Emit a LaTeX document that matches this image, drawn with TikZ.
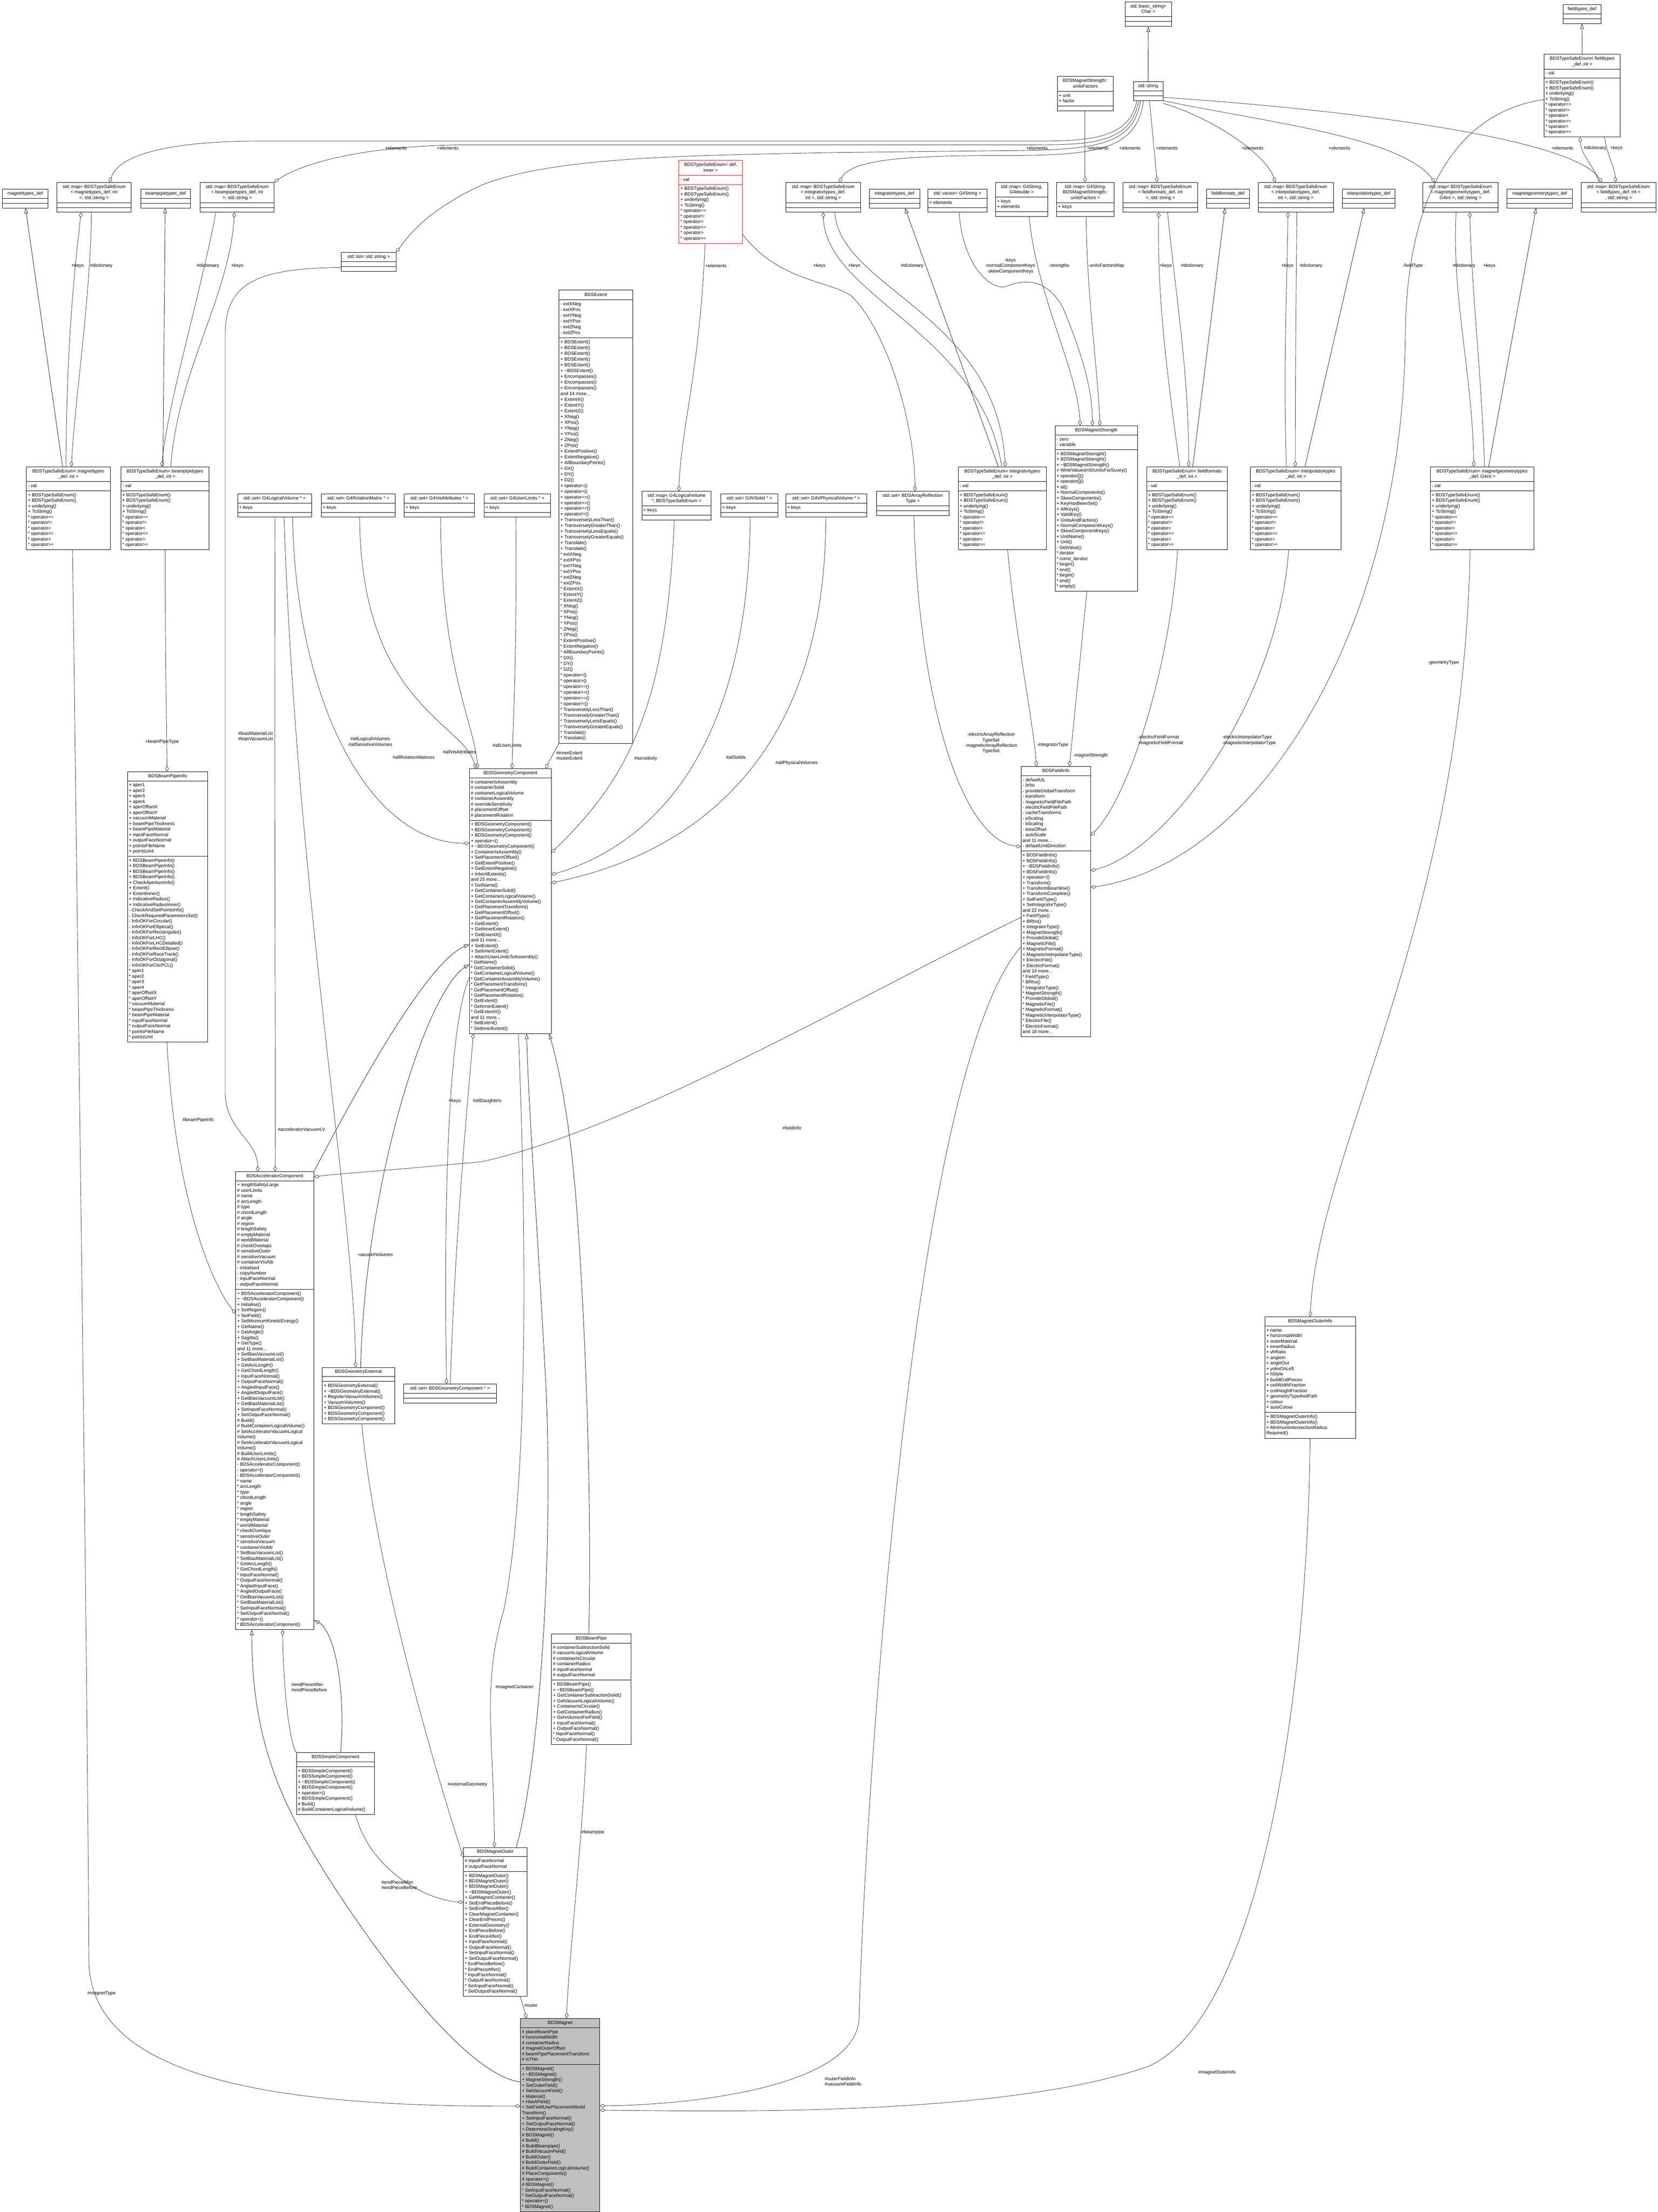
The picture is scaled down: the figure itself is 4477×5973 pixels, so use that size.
\documentclass[tikz,border=0pt]{standalone}
\usepackage{fontspec}
\setmainfont{Liberation Sans}
\usetikzlibrary{shapes.multipart,arrows.meta}
\definecolor{edgegray}{HTML}{404040}
\definecolor{inhblue}{HTML}{191970}
\definecolor{magfill}{HTML}{BFBFBF}
\newcommand\cf{\fontsize{12.5}{14.9}\selectfont}
\newcommand\cfx{\fontsize{12.5}{15.5}\selectfont}
\newcommand\tl{\textasciitilde}
\tikzset{
  cls/.style={draw=black,line width=1pt,fill=white,rectangle split,rectangle split parts=3,
    rectangle split part align={center,left,left},anchor=north west,inner xsep=4pt,inner ysep=4.5pt,font=\cf},
  agg/.style={draw=edgegray,line width=1.1pt,-{Diamond[open,length=15pt,width=10pt]}},
  inh/.style={draw=inhblue,line width=1.1pt,-{Triangle[open,length=14pt,width=10pt]}},
  lbl/.style={font=\cf,anchor=west,inner sep=0pt,align=left},
  lblc/.style={font=\cf,anchor=north,inner sep=0pt,align=center},
}
\newcommand\umlcls[8][]{\node[cls,minimum width=#5pt,#1] (#2) at (#3,#4)
 {\begin{tabular}{@{}c@{}}#6\end{tabular}\nodepart{two}\begin{tabular}{@{}l@{}}#7\end{tabular}\nodepart{three}\begin{tabular}{@{}l@{}}#8\end{tabular}};}
\newcommand\tsem{+ BDSTypeSafeEnum()\\+ BDSTypeSafeEnum()\\+ underlying()\\+ ToString()\\{*} operator==\\{*} operator!=\\{*} operator<\\{*} operator<=\\{*} operator>\\{*} operator>=}
\begin{document}
\begin{tikzpicture}[x=1pt,y=-1pt]
\fill[white] (0,0) rectangle (4477,5973);
\useasboundingbox (0,0) rectangle (4477,5973);
% ---------- top row
\umlcls{basic}{3038}{5}{125}{std::basic\_string<\\Char >}{}{}
\umlcls{ftdef}{4220}{12}{103}{fieldtypes\_def}{}{}
\umlcls{tsfield}{4169}{146}{206}{BDSTypeSafeEnum< fieldtypes\\\_def, int >}{- val}{\tsem}
\umlcls{unitsF}{2855}{206}{151}{BDSMagnetStrength::\\unitsFactors}{+ unit\\+ factor}{}
\umlcls{string}{3060}{220}{80}{std::string}{}{}
% ---------- maps
\umlcls{mapMagT}{153}{492}{201}{std::map< BDSTypeSafeEnum\\< magnettypes\_def, int\\>, std::string >}{}{}
\umlcls{mapBPT}{540}{492}{200}{std::map< BDSTypeSafeEnum\\< beampipetypes\_def, int\\>, std::string >}{}{}
\umlcls{mapIntT}{2121}{492}{203}{std::map< BDSTypeSafeEnum\\< integratortypes\_def,\\int >, std::string >}{}{}
\umlcls{mapG4d}{2688}{492}{141}{std::map< G4String,\\G4double >}{+ keys\\+ elements}{}
\umlcls{mapUF}{2853}{492}{155}{std::map< G4String,\\BDSMagnetStrength::\\unitsFactors >}{+ keys}{}
\umlcls{mapFF}{3032}{492}{202}{std::map< BDSTypeSafeEnum\\< fieldformats\_def, int\\>, std::string >}{}{}
\umlcls{mapIT}{3397}{492}{203}{std::map< BDSTypeSafeEnum\\< interpolatortypes\_def,\\int >, std::string >}{}{}
\umlcls{mapMG}{3842}{492}{203}{std::map< BDSTypeSafeEnum\\< magnetgeometrytypes\_def,\\G4int >, std::string >}{}{}
\umlcls{mapFT}{4269}{492}{202}{std::map< BDSTypeSafeEnum\\< fieldtypes\_def, int >\\, std::string >}{}{}
\umlcls{magdef}{6}{510}{123}{magnettypes\_def}{}{}
\umlcls{bpdef}{380}{510}{134}{beampipetypes\_def}{}{}
\umlcls{intdef}{2347}{510}{136}{integratortypes\_def}{}{}
\umlcls{vecG4}{2505}{510}{160}{std::vector< G4String >}{+ elements}{}
\umlcls{ffdef}{3258}{510}{115}{fieldformats\_def}{}{}
\umlcls{itdef}{3624}{510}{143}{interpolatortypes\_def}{}{}
\umlcls{mgdef}{4069}{510}{177}{magnetgeometrytypes\_def}{}{}
\umlcls[draw=red]{tsdef}{1833}{433}{171}{BDSTypeSafeEnum< def,\\inner >}{- val}{\tsem}
\umlcls{list}{921}{681}{148}{std::list< std::string >}{}{}
% ---------- BDSExtent
\umlcls[font=\cfx]{extent}{1509}{783}{199}{BDSExtent}{- extXNeg\\- extXPos\\- extYNeg\\- extYPos\\- extZNeg\\- extZPos}
{+ BDSExtent()\\+ BDSExtent()\\+ BDSExtent()\\+ BDSExtent()\\+ BDSExtent()\\+ \tl BDSExtent()\\+ Encompasses()\\+ Encompasses()\\+ Encompasses()\\and 14 more...\\+ ExtentX()\\+ ExtentY()\\+ ExtentZ()\\+ XNeg()\\+ XPos()\\+ YNeg()\\+ YPos()\\+ ZNeg()\\+ ZPos()\\+ ExtentPositive()\\+ ExtentNegative()\\+ AllBoundaryPoints()\\+ DX()\\+ DY()\\+ DZ()\\+ operator<()\\+ operator>()\\+ operator<=()\\+ operator>=()\\+ operator==()\\+ operator!=()\\+ TransverselyLessThan()\\+ TransverselyGreaterThan()\\+ TransverselyLessEquals()\\+ TransverselyGreaterEquals()\\+ Translate()\\+ Translate()\\{*} extXNeg\\{*} extXPos\\{*} extYNeg\\{*} extYPos\\{*} extZNeg\\{*} extZPos\\{*} ExtentX()\\{*} ExtentY()\\{*} ExtentZ()\\{*} XNeg()\\{*} XPos()\\{*} YNeg()\\{*} YPos()\\{*} ZNeg()\\{*} ZPos()\\{*} ExtentPositive()\\{*} ExtentNegative()\\{*} AllBoundaryPoints()\\{*} DX()\\{*} DY()\\{*} DZ()\\{*} operator<()\\{*} operator>()\\{*} operator<=()\\{*} operator>=()\\{*} operator==()\\{*} operator!=()\\{*} TransverselyLessThan()\\{*} TransverselyGreaterThan()\\{*} TransverselyLessEquals()\\{*} TransverselyGreaterEquals()\\{*} Translate()\\{*} Translate()}
% ---------- type safe enums
\umlcls{tsMagT}{71}{1260}{226}{BDSTypeSafeEnum< magnettypes\\\_def, int >}{- val}{\tsem}
\umlcls{tsBPT}{326}{1260}{238}{BDSTypeSafeEnum< beampipetypes\\\_def, int >}{- val}{\tsem}
\umlcls{tsIntT}{2587}{1260}{238}{BDSTypeSafeEnum< integratortypes\\\_def, int >}{- val}{\tsem}
\umlcls{tsFF}{3096}{1260}{218}{BDSTypeSafeEnum< fieldformats\\\_def, int >}{- val}{\tsem}
\umlcls{tsIT}{3376}{1260}{245}{BDSTypeSafeEnum< interpolatortypes\\\_def, int >}{- val}{\tsem}
\umlcls{tsMG}{3862}{1260}{280}{BDSTypeSafeEnum< magnetgeometrytypes\\\_def, G4int >}{- val}{\tsem}
% ---------- sets
\umlcls{setLV}{641}{1333}{200}{std::set< G4LogicalVolume * >}{+ keys}{}
\umlcls{setRM}{867}{1333}{200}{std::set< G4RotationMatrix * >}{+ keys}{}
\umlcls{setVA}{1091}{1333}{190}{std::set< G4VisAttributes * >}{+ keys}{}
\umlcls{setUL}{1307}{1333}{179}{std::set< G4UserLimits * >}{+ keys}{}
\umlcls{mapLVS}{1733}{1326}{187}{std::map< G4LogicalVolume\\{*}, BDSTypeSafeEnum >}{+ keys}{}
\umlcls{setSolid}{1946}{1333}{154}{std::set< G4VSolid * >}{+ keys}{}
\umlcls{setPV}{2121}{1333}{219}{std::set< G4VPhysicalVolume * >}{+ keys}{}
\umlcls{setARef}{2367}{1326}{195}{std::set< BDSArrayReflection\\Type >}{}{}
% ---------- BDSMagnetStrength
\umlcls{MS}{2849}{1149}{222}{BDSMagnetStrength}{- zero\\- variable}
{+ BDSMagnetStrength()\\+ BDSMagnetStrength()\\+ \tl BDSMagnetStrength()\\+ WriteValuesInSIUnitsForSuvey()\\+ operator[]()\\+ operator[]()\\+ at()\\+ NormalComponents()\\+ SkewComponents()\\+ KeyHasBeenSet()\\+ AllKeys()\\+ ValidKey()\\+ UnitsAndFactors()\\+ NormalComponentKeys()\\+ SkewComponentKeys()\\+ UnitName()\\+ Unit()\\- GetValue()\\{*} iterator\\{*} const\_iterator\\{*} begin()\\{*} end()\\{*} begin()\\{*} end()\\{*} empty()}
% ---------- BDSBeamPipeInfo
\umlcls{BPI}{344}{2083}{216}{BDSBeamPipeInfo}{+ aper1\\+ aper2\\+ aper3\\+ aper4\\+ aperOffsetX\\+ aperOffsetY\\+ vacuumMaterial\\+ beamPipeThickness\\+ beamPipeMaterial\\+ inputFaceNormal\\+ outputFaceNormal\\+ pointsFileName\\+ pointsUnit}
{+ BDSBeamPipeInfo()\\+ BDSBeamPipeInfo()\\+ BDSBeamPipeInfo()\\+ BDSBeamPipeInfo()\\+ CheckApertureInfo()\\+ Extent()\\+ ExtentInner()\\+ IndicativeRadius()\\+ IndicativeRadiusInner()\\- CheckAndSetPointsInfo()\\- CheckRequiredParametersSet()\\- InfoOKForCircular()\\- InfoOKForElliptical()\\- InfoOKForRectangular()\\- InfoOKForLHC()\\- InfoOKForLHCDetailed()\\- InfoOKForRectEllipse()\\- InfoOKForRaceTrack()\\- InfoOKForOctagonal()\\- InfoOKForClicPCL()\\{*} aper1\\{*} aper2\\{*} aper3\\{*} aper4\\{*} aperOffsetX\\{*} aperOffsetY\\{*} vacuumMaterial\\{*} beamPipeThickness\\{*} beamPipeMaterial\\{*} inputFaceNormal\\{*} outputFaceNormal\\{*} pointsFileName\\{*} pointsUnit}
% ---------- BDSGeometryComponent
\umlcls{GC}{1267}{2075}{221}{BDSGeometryComponent}{\# containerIsAssembly\\\# containerSolid\\\# containerLogicalVolume\\\# containerAssembly\\\# overrideSensitivity\\\# placementOffset\\\# placementRotation}
{+ BDSGeometryComponent()\\+ BDSGeometryComponent()\\+ BDSGeometryComponent()\\+ operator=()\\+ \tl BDSGeometryComponent()\\+ ContainerIsAssembly()\\+ SetPlacementOffset()\\+ GetExtentPositive()\\+ GetExtentNegative()\\+ InheritExtents()\\and 25 more...\\+ GetName()\\+ GetContainerSolid()\\+ GetContainerLogicalVolume()\\+ GetContainerAssemblyVolume()\\+ GetPlacementTransform()\\+ GetPlacementOffset()\\+ GetPlacementRotation()\\+ GetExtent()\\+ GetInnerExtent()\\+ GetExtentX()\\and 11 more...\\+ SetExtent()\\+ SetInnerExtent()\\+ AttachUserLimitsToAssembly()\\{*} GetName()\\{*} GetContainerSolid()\\{*} GetContainerLogicalVolume()\\{*} GetContainerAssemblyVolume()\\{*} GetPlacementTransform()\\{*} GetPlacementOffset()\\{*} GetPlacementRotation()\\{*} GetExtent()\\{*} GetInnerExtent()\\{*} GetExtentX()\\and 11 more...\\{*} SetExtent()\\{*} SetInnerExtent()}
% ---------- BDSFieldInfo
\umlcls{FI}{2757}{2069}{188}{BDSFieldInfo}{- defaultUL\\- brho\\- provideGlobalTransform\\- transform\\- magneticFieldFilePath\\- electricFieldFilePath\\- cacheTransforms\\- eScaling\\- bScaling\\- timeOffset\\- autoScale\\and 11 more...\\- defaultUnitDirection}
{+ BDSFieldInfo()\\+ BDSFieldInfo()\\+ \tl BDSFieldInfo()\\+ BDSFieldInfo()\\+ operator=()\\+ Transform()\\+ TransformBeamline()\\+ TransformComplete()\\+ SetFieldType()\\+ SetIntegratorType()\\and 22 more...\\+ FieldType()\\+ BRho()\\+ IntegratorType()\\+ MagnetStrength()\\+ ProvideGlobal()\\+ MagneticFile()\\+ MagneticFormat()\\+ MagneticInterpolatorType()\\+ ElectricFile()\\+ ElectricFormat()\\and 14 more...\\{*} FieldType()\\{*} BRho()\\{*} IntegratorType()\\{*} MagnetStrength()\\{*} ProvideGlobal()\\{*} MagneticFile()\\{*} MagneticFormat()\\{*} MagneticInterpolatorType()\\{*} ElectricFile()\\{*} ElectricFormat()\\and 18 more...}
% ---------- BDSMagnetOuterInfo
\umlcls{MOI}{3415}{3555}{245}{BDSMagnetOuterInfo}{+ name\\+ horizontalWidth\\+ outerMaterial\\+ innerRadius\\+ vhRatio\\+ angleIn\\+ angleOut\\+ yokeOnLeft\\+ hStyle\\+ buildEndPieces\\+ coilWidthFraction\\+ coilHeightFraction\\+ geometryTypeAndPath\\+ colour\\+ autoColour}
{+ BDSMagnetOuterInfo()\\+ BDSMagnetOuterInfo()\\+ MinimumIntersectionRadius\\Required()}
% ---------- BDSAcceleratorComponent
\umlcls{AC}{636}{3163}{211}{BDSAcceleratorComponent}{+ lengthSafetyLarge\\\# userLimits\\\# name\\\# arcLength\\\# type\\\# chordLength\\\# angle\\\# region\\\# lengthSafety\\\# emptyMaterial\\\# worldMaterial\\\# checkOverlaps\\\# sensitiveOuter\\\# sensitiveVacuum\\\# containerVisAttr\\- initialised\\- copyNumber\\- inputFaceNormal\\- outputFaceNormal}
{+ BDSAcceleratorComponent()\\+ \tl BDSAcceleratorComponent()\\+ Initialise()\\+ SetRegion()\\+ SetField()\\+ SetMinimumKineticEnergy()\\+ GetName()\\+ GetAngle()\\+ Sagitta()\\+ GetType()\\and 11 more...\\+ SetBiasVacuumList()\\+ SetBiasMaterialList()\\+ GetArcLength()\\+ GetChordLength()\\+ InputFaceNormal()\\+ OutputFaceNormal()\\+ AngledInputFace()\\+ AngledOutputFace()\\+ GetBiasVacuumList()\\+ GetBiasMaterialList()\\+ SetInputFaceNormal()\\+ SetOutputFaceNormal()\\\# Build()\\\# BuildContainerLogicalVolume()\\\# SetAcceleratorVacuumLogical\\Volume()\\\# SetAcceleratorVacuumLogical\\Volume()\\\# BuildUserLimits()\\\# AttachUserLimits()\\- BDSAcceleratorComponent()\\- operator=()\\- BDSAcceleratorComponent()\\{*} name\\{*} arcLength\\{*} type\\{*} chordLength\\{*} angle\\{*} region\\{*} lengthSafety\\{*} emptyMaterial\\{*} worldMaterial\\{*} checkOverlaps\\{*} sensitiveOuter\\{*} sensitiveVacuum\\{*} containerVisAttr\\{*} SetBiasVacuumList()\\{*} SetBiasMaterialList()\\{*} GetArcLength()\\{*} GetChordLength()\\{*} InputFaceNormal()\\{*} OutputFaceNormal()\\{*} AngledInputFace()\\{*} AngledOutputFace()\\{*} GetBiasVacuumList()\\{*} GetBiasMaterialList()\\{*} SetInputFaceNormal()\\{*} SetOutputFaceNormal()\\{*} operator=()\\{*} BDSAcceleratorComponent()}
% ---------- lower classes
\umlcls{GE}{870}{3692}{195}{BDSGeometryExternal}{}{+ BDSGeometryExternal()\\+ \tl BDSGeometryExternal()\\+ RegisterVacuumVolumes()\\+ VacuumVolumes()\\+ BDSGeometryComponent()\\+ BDSGeometryComponent()\\+ BDSGeometryComponent()}
\umlcls{setGC}{1089}{3737}{251}{std::set< BDSGeometryComponent * >}{}{}
\umlcls{SC}{800}{4732}{211}{BDSSimpleComponent}{}{+ BDSSimpleComponent()\\+ BDSSimpleComponent()\\+ \tl BDSSimpleComponent()\\+ BDSSimpleComponent()\\+ operator=()\\+ BDSSimpleComponent()\\\# Build()\\\# BuildContainerLogicalVolume()}
\umlcls{BP}{1489}{4412}{214}{BDSBeamPipe}{\# containerSubtractionSolid\\\# vacuumLogicalVolume\\\# containerIsCircular\\\# containerRadius\\\# inputFaceNormal\\\# outputFaceNormal}
{+ BDSBeamPipe()\\+ \tl BDSBeamPipe()\\+ GetContainerSubtractionSolid()\\+ GetVacuumLogicalVolume()\\+ ContainerIsCircular()\\+ GetContainerRadius()\\+ GetVolumesForField()\\+ InputFaceNormal()\\+ OutputFaceNormal()\\{*} InputFaceNormal()\\{*} OutputFaceNormal()}
\umlcls{MO}{1251}{4988}{172}{BDSMagnetOuter}{\# inputFaceNormal\\\# outputFaceNormal}
{+ BDSMagnetOuter()\\+ BDSMagnetOuter()\\+ BDSMagnetOuter()\\+ \tl BDSMagnetOuter()\\+ GetMagnetContainer()\\+ SetEndPieceBefore()\\+ SetEndPieceAfter()\\+ ClearMagnetContainer()\\+ ClearEndPieces()\\+ ExternalGeometry()\\+ EndPieceBefore()\\+ EndPieceAfter()\\+ InputFaceNormal()\\+ OutputFaceNormal()\\+ SetInputFaceNormal()\\+ SetOutputFaceNormal()\\{*} EndPieceBefore()\\{*} EndPieceAfter()\\{*} InputFaceNormal()\\{*} OutputFaceNormal()\\{*} SetInputFaceNormal()\\{*} SetOutputFaceNormal()}
\umlcls[fill=magfill]{MAG}{1405}{5450}{214}{BDSMagnet}{\# placeBeamPipe\\\# horizontalWidth\\\# containerRadius\\\# magnetOuterOffset\\\# beamPipePlacementTransform\\\# isThin}
{+ BDSMagnet()\\+ \tl BDSMagnet()\\+ MagnetStrength()\\+ SetOuterField()\\+ SetVacuumField()\\+ Material()\\+ HasAField()\\+ SetFieldUsePlacementWorld\\Transform()\\+ SetInputFaceNormal()\\+ SetOutputFaceNormal()\\+ DetermineScalingKey()\\\# BDSMagnet()\\\# Build()\\\# BuildBeampipe()\\\# BuildVacuumField()\\\# BuildOuter()\\\# BuildOuterField()\\\# BuildContainerLogicalVolume()\\\# PlaceComponents()\\\# operator=()\\\# BDSMagnet()\\{*} SetInputFaceNormal()\\{*} SetOutputFaceNormal()\\{*} operator=()\\{*} BDSMagnet()}
% ================= edges: inheritance
\draw[inh] (string.north) -- (basic.south);
\draw[inh] (tsfield.north) -- (ftdef.south);
\draw[inh] (tsMagT.north -| 169,0) -- (magdef.south -| 69,0);
\draw[inh] (tsBPT.north -| 440,0) -- (bpdef.south -| 446,0);
\draw[inh] (tsIntT.north -| 2696,0) -- (intdef.south -| 2444,0);
\draw[inh] (tsFF.north -| 3221,0) -- (ffdef.south -| 3308,0);
\draw[inh] (tsIT.north -| 3524,0) -- (itdef.south -| 3684,0);
\draw[inh] (tsMG.north -| 4020,0) -- (mgdef.south -| 4148,0);
\draw[inh] (AC.north east) .. controls (960,2950) and (1150,2600) .. (GC.west |- 0,2550);
\draw[inh] (GE.north -| 974,0) .. controls (985,3200) and (1150,2680) .. (GC.west |- 0,2604);
\draw[inh] (MO.north -| 1394,0) .. controls (1450,4800) and (1500,4200) .. (1472,3700) .. controls (1450,3300) and (1428,3000) .. (GC.south -| 1422,0);
\draw[inh] (BP.north -| 1590,0) .. controls (1600,4000) and (1575,3500) .. (1560,3300) .. controls (1540,3000) and (1500,2850) .. (GC.south -| 1483,0);
\draw[inh] (SC.north -| 920,0) .. controls (935,4550) and (900,4400) .. (AC.east |- 0,4375);
\draw[inh] (MAG.west |- 0,5622) .. controls (1250,5600) and (1000,5250) .. (880,5060) .. controls (760,4870) and (680,4700) .. (AC.south -| 680,0);
% ================= edges: aggregation (top)
\draw[agg] (unitsF.south -| 2930,0) -- (mapUF.north -| 2930,0);
\draw[agg] (string.south -| 3104,0) -- (mapFF.north -| 3125,0);
\draw[agg] (string.east |- 0,279) .. controls (3280,320) and (3420,420) .. (mapIT.north -| 3444,0);
\draw[agg] (string.east |- 0,272) .. controls (3420,330) and (3780,370) .. (mapMG.north -| 3875,0);
\draw[agg] (string.east |- 0,263) .. controls (3700,300) and (4250,380) .. (mapFT.north -| 4326,0);
\draw[agg] (tsfield.south -| 4333,0) .. controls (4340,420) and (4360,450) .. (mapFT.north -| 4363,0);
\draw[agg] (mapFT.north -| 4318,0) .. controls (4300,440) and (4270,420) .. (tsfield.south -| 4267,0);
\draw[agg] (string.south -| 3070,0) .. controls (3050,372) and (2950,381) .. (2800,381) -- (700,381) .. controls (450,381) and (320,420) .. (mapMagT.north -| 296,0);
\draw[agg] (string.south -| 3075,0) .. controls (3055,385) and (2950,391) .. (2800,391) -- (1250,391) .. controls (950,395) and (800,450) .. (mapBPT.north east);
\draw[agg] (string.south -| 3080,0) .. controls (3060,398) and (2950,405) .. (2700,407) -- (2240,412) .. controls (1900,420) and (1500,420) .. (1300,500) .. controls (1150,570) and (1100,640) .. (list.north east);
\draw[agg] (string.south -| 3088,0) .. controls (3070,410) and (2950,420) .. (2700,420) .. controls (2450,420) and (2300,430) .. (mapIntT.north -| 2266,0);
\draw[agg] (tsMagT.north -| 178,0) .. controls (180,900) and (205,700) .. (mapMagT.south -| 219,0);
\draw[agg] (mapMagT.south -| 247,0) .. controls (245,800) and (200,1100) .. (tsMagT.north -| 193,0);
\draw[agg] (tsBPT.north -| 461,0) .. controls (480,1000) and (620,800) .. (mapBPT.south -| 633,0);
\draw[agg] (mapBPT.south -| 583,0) .. controls (540,800) and (450,1100) .. (tsBPT.north -| 437,0);
\draw[agg] (tsIntT.north -| 2705,0) .. controls (2650,900) and (2230,800) .. (mapIntT.south -| 2223,0);
\draw[agg] (mapIntT.south -| 2254,0) .. controls (2270,780) and (2690,850) .. (tsIntT.north -| 2715,0);
\draw[agg] (tsFF.north -| 3186,0) .. controls (3150,1000) and (3125,800) .. (mapFF.south -| 3129,0);
\draw[agg] (mapFF.south -| 3153,0) .. controls (3175,800) and (3210,1000) .. (tsFF.north -| 3210,0);
\draw[agg] (tsIT.north -| 3474,0) .. controls (3465,1000) and (3475,800) .. (mapIT.south -| 3478,0);
\draw[agg] (mapIT.south -| 3502,0) .. controls (3500,800) and (3498,1000) .. (tsIT.north -| 3498,0);
\draw[agg] (tsMG.north -| 4009,0) .. controls (4000,1000) and (3975,800) .. (mapMG.south -| 3969,0);
\draw[agg] (mapMG.south -| 3932,0) .. controls (3920,800) and (3975,1000) .. (tsMG.north -| 3980,0);
\draw[agg] (tsdef.south -| 1904,0) .. controls (1890,1000) and (1840,1150) .. (mapLVS.north -| 1833,0);
\draw[agg] (tsdef.east |- 0,632) .. controls (2100,760) and (2250,760) .. (2300,800) .. controls (2400,900) and (2470,1150) .. (setARef.north -| 2471,0);
\draw[agg] (mapG4d.south -| 2779,0) .. controls (2800,800) and (2910,1000) .. (MS.north -| 2917,0);
\draw[agg] (vecG4.south -| 2590,0) .. controls (2600,720) and (2680,790) .. (2720,772) .. controls (2780,750) and (2830,760) .. (2870,830) .. controls (2920,950) and (2950,1050) .. (MS.north -| 2950,0);
\draw[agg] (mapUF.south -| 2933,0) .. controls (2935,800) and (2965,1000) .. (MS.north -| 2970,0);
% ================= edges: to BDSFieldInfo etc.
\draw[agg] (tsIntT.south -| 2721,0) .. controls (2740,1700) and (2790,1950) .. (FI.north -| 2799,0);
\draw[agg] (MS.south -| 2935,0) -- (FI.north -| 2888,0);
\draw[agg] (tsFF.south -| 3180,0) .. controls (3160,1800) and (3050,2150) .. (FI.east |- 0,2256);
\draw[agg] (tsIT.south -| 3480,0) .. controls (3450,1900) and (3150,2300) .. (FI.east |- 0,2351);
\draw[agg] (tsfield.west |- 0,269) .. controls (3950,300) and (3800,500) .. (3795,900) .. controls (3790,1700) and (3400,2330) .. (FI.east |- 0,2396);
\draw[agg] (setARef.south -| 2468,0) .. controls (2480,1900) and (2600,2270) .. (FI.west |- 0,2286);
\draw[agg] (tsMG.south -| 3970,0) .. controls (3950,2500) and (3560,3100) .. (MOI.north);
% ================= edges: left / middle
\draw[agg] (tsBPT.south -| 446,0) .. controls (446,1800) and (450,1950) .. (BPI.north -| 451,0);
\draw[agg] (BPI.south -| 451,0) .. controls (470,3200) and (560,3450) .. (AC.west |- 0,3547);
\draw[agg] (list.west |- 0,722) .. controls (700,725) and (610,760) .. (608,900) -- (608,2950) .. controls (608,3050) and (696,3080) .. (AC.north -| 696,0);
\draw[agg] (setLV.south -| 743,0) .. controls (740,2200) and (745,2900) .. (AC.north -| 743,0);
\draw[agg] (setLV.south -| 767,0) .. controls (800,2400) and (960,3300) .. (GE.north -| 960,0);
\draw[agg] (setLV.south -| 790,0) .. controls (800,1900) and (1000,2277) .. (GC.west |- 0,2277);
\draw[agg] (setRM.south -| 971,0) .. controls (975,1900) and (1250,1950) .. (GC.north -| 1285,0);
\draw[agg] (setVA.south -| 1190,0) .. controls (1190,1800) and (1280,1950) .. (GC.north -| 1290,0);
\draw[agg] (setUL.south -| 1393,0) .. controls (1396,1800) and (1385,1950) .. (GC.north -| 1383,0);
\draw[agg] (extent.south west) -- (GC.north -| 1473,0);
\draw[agg] (mapLVS.south -| 1821,0) .. controls (1800,1900) and (1700,2100) .. (GC.east |- 0,2302);
\draw[agg] (setSolid.south -| 2026,0) .. controls (2020,2100) and (1700,2300) .. (GC.east |- 0,2362);
\draw[agg] (setPV.south -| 2230,0) .. controls (2230,2150) and (1750,2330) .. (GC.east |- 0,2384);
\draw[agg] (setGC.north -| 1216,0) .. controls (1230,3300) and (1270,2900) .. (GC.south -| 1278,0);
\draw[agg] (GC.west |- 0,2640) .. controls (1200,2800) and (1200,3400) .. (setGC.north -| 1206,0);
\draw[agg] (FI.west |- 0,2477) .. controls (2300,2700) and (1700,3050) .. (1300,3137) .. controls (1000,3165) and (900,3170) .. (AC.east |- 0,3178);
% ================= edges: bottom
\draw[agg] (GC.south -| 1400,0) .. controls (1420,3300) and (1430,4000) .. (1360,4350) .. controls (1300,4550) and (1334,4700) .. (MO.north -| 1335,0);
\draw[agg] (GE.south -| 977,0) .. controls (1010,4200) and (1150,4700) .. (MO.west |- 0,5015);
\draw[agg] (SC.north west) .. controls (780,4700) and (765,4550) .. (AC.south -| 763,0);
\draw[agg] (SC.south -| 960,0) .. controls (1000,5050) and (1150,5130) .. (MO.west |- 0,5137);
\draw[agg] (MO.south -| 1405,0) -- (MAG.north -| 1422,0);
\draw[agg] (BP.south -| 1584,0) .. controls (1570,5000) and (1535,5300) .. (MAG.north -| 1530,0);
\draw[agg] (FI.west |- 0,2557) .. controls (2450,2900) and (2330,5000) .. (2320,5450) .. controls (2310,5650) and (1800,5686) .. (MAG.east |- 0,5686);
\draw[agg] (MOI.south) .. controls (3530,4600) and (3400,5450) .. (3100,5580) .. controls (2700,5720) and (1900,5700) .. (MAG.east |- 0,5698);
\draw[agg] (tsMagT.south -| 196,0) .. controls (215,3000) and (236,4500) .. (240,5300) .. controls (250,5600) and (700,5690) .. (MAG.west |- 0,5687);
% ================= labels
\node[lbl] (e1) at (1040,400) {+elements};
\node[lbl] (e2) at (1180,400) {+elements};
\node[lbl] (e3) at (2771,400) {+elements};
\node[lbl] (e4) at (2935,400) {+elements};
\node[lbl] (e5) at (3022,400) {+elements};
\node[lbl] (e6) at (3122,400) {+elements};
\node[lbl] (e7) at (3353,400) {+elements};
\node[lbl] (e8) at (3588,400) {+elements};
\node[lbl] (e9) at (4190,400) {+elements};
\node[lbl] (d1) at (4277,400) {\#dictionary};
\node[lbl] (k1) at (4348,400) {+keys};
\node[lbl] (k2) at (193,718) {+keys};
\node[lbl] (d2) at (243,718) {\#dictionary};
\node[lbl] (d3) at (531,718) {\#dictionary};
\node[lbl] (k3) at (624,718) {+keys};
\node[lbl] (e10) at (1904,718) {+elements};
\node[lbl] (k4) at (2196,718) {+keys};
\node[lbl] (k5) at (2290,718) {+keys};
\node[lbl] (d4) at (2433,718) {\#dictionary};
\node[lblc] (ks) at (2728,697) {-keys\\-normalComponentKeys\\-skewComponentKeys};
\node[lbl] (st) at (2832,718) {-strengths};
\node[lbl] (uf) at (2939,718) {-unitsFactorsMap};
\node[lbl] (k6) at (3131,718) {+keys};
\node[lbl] (d5) at (3189,718) {\#dictionary};
\node[lbl] (k7) at (3460,718) {+keys};
\node[lbl] (d6) at (3510,718) {\#dictionary};
\node[lbl] (ft) at (3788,718) {-fieldType};
\node[lbl] (d7) at (3923,718) {\#dictionary};
\node[lbl] (k8) at (4005,718) {+keys};
\node[lbl] (gt) at (3856,1790) {-geometryType};
\node[lbl] (bpt) at (392,2003) {+beamPipeType};
\node[lblc] (bias) at (690,1975) {\#biasMaterialList\\\#biasVacuumList};
\node[lblc] (alv) at (1000,1990) {\#allLogicalVolumes\\\#allSensitiveVolumes};
\node[lbl] (arm) at (1060,2045) {\#allRotationMatrices};
\node[lbl] (ava) at (1196,2030) {\#allVisAttributes};
\node[lbl] (aul) at (1330,2012) {\#allUserLimits};
\node[lbl] (ie) at (1502,2040) {\#innerExtent\\\#outerExtent};
\node[lbl] (sens) at (1713,2048) {\#sensitivity};
\node[lbl] (aso) at (1960,2045) {\#allSolids};
\node[lbl] (apv) at (2094,2060) {\#allPhysicalVolumes};
\node[lblc] (ar) at (2676,1978) {-electricArrayReflection\\TypeSet\\-magneticArrayReflection\\TypeSet};
\node[lbl] (it) at (2800,2012) {-integratorType};
\node[lbl] (ms) at (2898,2040) {-magnetStrength};
\node[lbl] (ff) at (3073,1999) {-electricFieldFormat\\-magneticFieldFormat};
\node[lbl] (ipt) at (3300,1999) {-electricInterpolatorType\\-magneticInterpolatorType};
\node[lbl] (keysgc) at (1211,2973) {+keys};
\node[lbl] (ad) at (1277,2973) {\#allDaughters};
\node[lbl] (bpi) at (493,3024) {\#beamPipeInfo};
\node[lbl] (fi) at (2113,3046) {\#fieldInfo};
\node[lbl] (avlv) at (750,3050) {\#acceleratorVacuumLV};
\node[lbl] (vv) at (965,3388) {-vacuumVolumes};
\node[lbl] (epa) at (787,4556) {\#endPieceAfter\\\#endPieceBefore};
\node[lbl] (mc) at (1338,4556) {\#magnetContainer};
\node[lbl] (eg) at (1209,4819) {\#externalGeometry};
\node[lbl] (bpp) at (1570,4948) {\#beampipe};
\node[lbl] (epb) at (1030,5090) {\#endPieceAfter\\\#endPieceBefore};
\node[lbl] (out) at (1416,5415) {\#outer};
\node[lbl] (mt) at (236,5383) {\#magnetType};
\node[lbl] (ofi) at (2227,5620) {\#outerFieldInfo\\\#vacuumFieldInfo};
\node[lbl] (moi) at (3236,5596) {\#magnetOuterInfo};
\end{tikzpicture}
\end{document}
